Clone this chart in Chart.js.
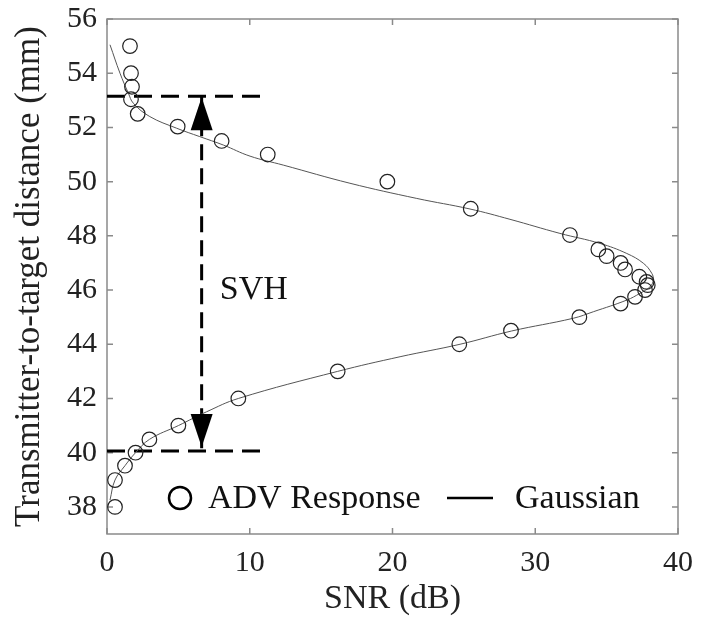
<!DOCTYPE html>
<html lang="en">
<head>
<meta charset="UTF-8">
<title>SVH</title>
<script src="https://cdn.jsdelivr.net/npm/chart.js"></script>
<style>
  html, body { margin: 0; padding: 0; background: #fff; }
  #wrap { width: 709px; height: 621px; }
</style>
</head>
<body>
<div id="wrap"><canvas id="myChart"></canvas></div>
<script>
    // measured ADV points (SNR in dB, distance in mm)
    const advSnr = [1.61, 1.68, 1.75, 1.68, 2.15, 4.95, 8.03, 11.26, 19.64, 25.48, 32.43, 34.42, 35.0, 35.98, 36.29, 37.29, 37.8, 37.88, 37.69, 36.99, 35.98, 33.09, 28.3, 24.68, 16.16, 9.2, 5.0, 2.97, 2.0, 1.26, 0.56, 0.56];
    const advDist = [55.0, 54.0, 53.5, 53.04, 52.5, 52.03, 51.5, 51.0, 50.0, 49.0, 48.03, 47.5, 47.25, 47.0, 46.76, 46.49, 46.3, 46.18, 46.0, 45.75, 45.5, 45.0, 44.5, 44.0, 43.0, 42.0, 41.0, 40.49, 40.0, 39.52, 38.99, 38.0];

    // gaussian fit
    const gaussSnr = [0.21, 0.91, 1.5, 1.85, 3.0, 4.88, 6.5, 8.15, 10.02, 12.35, 17.02, 21.7, 25.43, 28.23, 31.73, 34.54, 36.41, 37.57, 38.16, 38.27, 38.04, 37.34, 36.41, 34.07, 32.67, 28.35, 24.73, 20.53, 16.16, 9.2, 6.98, 5.0, 2.97, 2.0, 1.26, 0.56, 0.21];
    const gaussDist = [55.05, 54.0, 53.26, 52.89, 52.4, 51.97, 51.66, 51.35, 50.94, 50.61, 49.94, 49.38, 48.99, 48.61, 48.09, 47.72, 47.35, 46.99, 46.62, 46.37, 46.12, 45.88, 45.63, 45.2, 44.96, 44.49, 44.0, 43.54, 43.0, 42.0, 41.51, 41.0, 40.49, 40.0, 39.52, 38.99, 38.25];

    const xTicks = [0, 10, 20, 30, 40];
    const yTicks = [38, 40, 42, 44, 46, 48, 50, 52, 54, 56];

    // SVH annotation
    const svhTop = 53.15;
    const svhBottom = 40.06;
    const svhX = 6.63;
    const dashEndX = 10.8;
    const svhLabelX = 7.9;
    const svhLabelY = 46.0;

    const serif = "'Liberation Serif', 'DejaVu Serif', serif";

    function pts(xs, ys) {
        return xs.map(function (x, i) { return { x: x, y: ys[i] }; });
    }

    const boxPlugin = {
        id: 'boxPlugin',
        beforeDatasetsDraw(chart) {
            const ctx = chart.ctx;
            const a = chart.chartArea;
            const xs = chart.scales.x;
            const ys = chart.scales.y;
            ctx.save();
            ctx.strokeStyle = '#8a8a8a';
            ctx.lineWidth = 1.5;
            ctx.strokeRect(a.left, a.top, a.right - a.left, a.bottom - a.top);
            ctx.beginPath();
            xTicks.forEach(function (v) {
                const px = xs.getPixelForValue(v);
                ctx.moveTo(px, a.bottom); ctx.lineTo(px, a.bottom - 6);
                ctx.moveTo(px, a.top); ctx.lineTo(px, a.top + 6);
            });
            yTicks.forEach(function (v) {
                const py = ys.getPixelForValue(v);
                ctx.moveTo(a.left, py); ctx.lineTo(a.left + 6, py);
                ctx.moveTo(a.right, py); ctx.lineTo(a.right - 6, py);
            });
            ctx.stroke();
            ctx.restore();
        },
        afterDatasetsDraw(chart) {
            const ctx = chart.ctx;
            const a = chart.chartArea;
            const xs = chart.scales.x;
            const ys = chart.scales.y;
            const ax = xs.getPixelForValue(svhX);
            const topTip = ys.getPixelForValue(svhTop) + 1;
            const botTip = ys.getPixelForValue(svhBottom) - 4;

            ctx.save();
            ctx.fillStyle = '#000';
            ctx.beginPath();
            ctx.moveTo(ax, topTip);
            ctx.lineTo(ax - 11, topTip + 33);
            ctx.lineTo(ax + 11, topTip + 33);
            ctx.closePath();
            ctx.fill();
            ctx.beginPath();
            ctx.moveTo(ax, botTip);
            ctx.lineTo(ax - 11, botTip - 33);
            ctx.lineTo(ax + 11, botTip - 33);
            ctx.closePath();
            ctx.fill();

            ctx.fillStyle = '#111';
            ctx.font = '34px ' + serif;
            ctx.textBaseline = 'middle';
            ctx.textAlign = 'left';
            ctx.fillText('SVH', xs.getPixelForValue(svhLabelX), ys.getPixelForValue(svhLabelY));

            // legend
            const ly = a.bottom - 36;
            ctx.strokeStyle = '#000';
            ctx.lineWidth = 2.5;
            ctx.beginPath();
            ctx.arc(a.left + 73, ly, 11, 0, Math.PI * 2);
            ctx.stroke();
            ctx.fillText('ADV Response', a.left + 101, ly + 1);
            ctx.lineWidth = 2.5;
            ctx.beginPath();
            ctx.moveTo(a.left + 340, ly);
            ctx.lineTo(a.left + 386, ly);
            ctx.stroke();
            ctx.fillText('Gaussian', a.left + 408, ly + 1);
            ctx.restore();
        }
    };

    const ctx = document.getElementById('myChart');

    new Chart(ctx, {
        type: 'scatter',
        data: {
            datasets: [{
                label: 'ADV Response',
                data: pts(advSnr, advDist),
                pointRadius: 7.3,
                pointBorderWidth: 1.2,
                borderColor: '#222',
                backgroundColor: 'rgba(0,0,0,0)',
                showLine: false
            }, {
                label: 'Gaussian',
                data: pts(gaussSnr, gaussDist),
                showLine: true,
                pointRadius: 0,
                borderColor: '#555',
                borderWidth: 1,
                tension: 0.4
            }, {
                label: 'top',
                data: [{ x: 0, y: svhTop }, { x: dashEndX, y: svhTop }],
                showLine: true,
                pointRadius: 0,
                borderColor: '#000',
                borderWidth: 3,
                borderDash: [18, 9]
            }, {
                label: 'bottom',
                data: [{ x: 0, y: svhBottom }, { x: dashEndX, y: svhBottom }],
                showLine: true,
                pointRadius: 0,
                borderColor: '#000',
                borderWidth: 3,
                borderDash: [18, 9]
            }, {
                label: 'svh',
                data: [{ x: svhX, y: svhTop }, { x: svhX, y: svhBottom }],
                showLine: true,
                pointRadius: 0,
                borderColor: '#000',
                borderWidth: 3,
                borderDash: [16, 8]
            }]
        },
        options: {
            responsive: true,
            maintainAspectRatio: false,
            animation: false,
            layout: { padding: { top: 19, right: 31, left: 0, bottom: 0 } },
            plugins: {
                legend: { display: false },
                tooltip: { enabled: false }
            },
            scales: {
                x: {
                    min: 0,
                    max: 40,
                    afterBuildTicks: function (s) { s.ticks = xTicks.map(function (v) { return { value: v }; }); },
                    afterFit: function (s) { s.height = 87; s.paddingLeft = 0; s.paddingRight = 0; },
                    grid: { display: false, drawTicks: false },
                    border: { display: false },
                    ticks: {
                        color: '#222',
                        padding: 11,
                        font: { family: serif, size: 30 }
                    },
                    title: {
                        display: true,
                        text: 'SNR (dB)',
                        color: '#222',
                        padding: { bottom: 2, top: 0 },
                        font: { family: serif, size: 34 }
                    }
                },
                y: {
                    min: 37,
                    max: 56,
                    afterBuildTicks: function (s) { s.ticks = yTicks.map(function (v) { return { value: v }; }); },
                    afterFit: function (s) { s.width = 107; s.paddingTop = 0; s.paddingBottom = 0; },
                    grid: { display: false, drawTicks: false },
                    border: { display: false },
                    ticks: {
                        color: '#222',
                        padding: 10,
                        font: { family: serif, size: 30 }
                    },
                    title: {
                        display: true,
                        text: 'Transmitter-to-target distance (mm)',
                        color: '#222',
                        padding: { top: 9, bottom: 0 },
                        font: { family: serif, size: 35 }
                    }
                }
            }
        },
        plugins: [boxPlugin]
    });
</script>
</body>
</html>
